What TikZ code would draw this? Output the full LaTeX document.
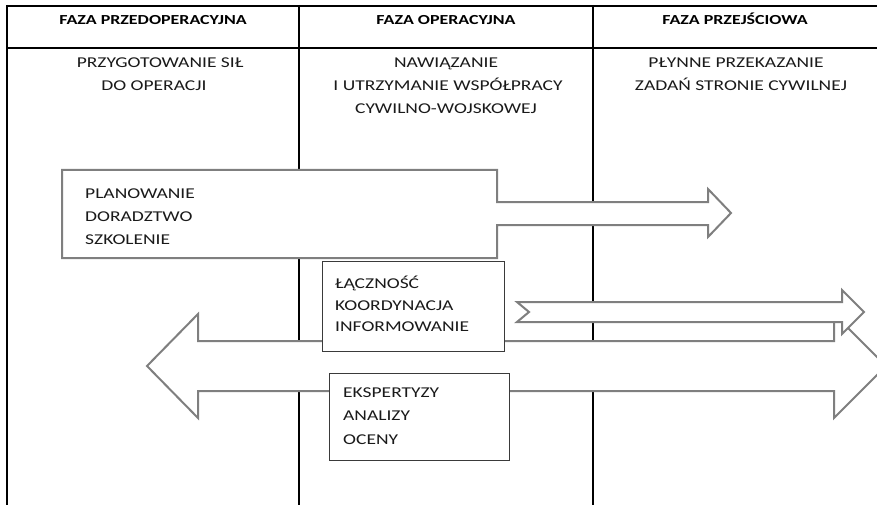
\documentclass[tikz,border=0pt]{standalone}
\usepackage{fontspec}
\setmainfont{Carlito}
\newfontfamily\bodyfam[FakeStretch=1.3]{Carlito}
\definecolor{arrowgray}{HTML}{7F7F7F}
\definecolor{boxgray}{HTML}{3A3A3A}
\definecolor{txt}{HTML}{1A1A1A}
\newcommand{\lblfont}{\bodyfam\fontsize{15}{18}\selectfont}
\newcommand{\hdrfont}{\bodyfam\fontsize{13.8}{18}\selectfont\bfseries}
\tikzset{
  tline/.style={line width=2.2pt, draw=black},
  garrow/.style={draw=arrowgray, line width=2pt, fill=white, line join=miter},
  tbox/.style={draw=boxgray, line width=1pt, fill=white, inner sep=0pt, anchor=north west},
  lbl/.style={inner sep=0pt, anchor=base west, font=\lblfont, text=txt},
  ctr/.style={inner sep=0pt, anchor=base, font=\lblfont, text=txt},
  hdr/.style={inner sep=0pt, anchor=base, font=\hdrfont, text=black},
}
\begin{document}
\begin{tikzpicture}[x=1pt,y=-1pt]
\useasboundingbox (0,0) rectangle (877,505);
% table lines
\coordinate (tl) at (7,6);
\coordinate (tr) at (877,6);
\coordinate (hl) at (7,48);
\coordinate (hr) at (877,48);
\coordinate (v0t) at (7,5); \coordinate (v0b) at (7,506);
\coordinate (v1t) at (299,5); \coordinate (v1b) at (299,506);
\coordinate (v2t) at (593,5); \coordinate (v2b) at (593,506);
\draw[tline] (tl) -- (tr);
\draw[tline] (hl) -- (hr);
\draw[tline] (v0t) -- (v0b);
\draw[tline] (v1t) -- (v1b);
\draw[tline] (v2t) -- (v2b);
% headers
\node[hdr] (h1) at (153,25) {FAZA PRZEDOPERACYJNA};
\node[hdr] (h2) at (446,25) {FAZA OPERACYJNA};
\node[hdr] (h3) at (735,25) {FAZA PRZEJŚCIOWA};
% second row
\node[ctr] (a1) at (160,68) {PRZYGOTOWANIE SIŁ};
\node[ctr] (a2) at (154,91) {DO OPERACJI};
\node[ctr] (b1) at (446,68) {NAWIĄZANIE};
\node[ctr] (b2) at (448,91) {I UTRZYMANIE WSPÓŁPRACY};
\node[ctr] (b3) at (446,114) {CYWILNO-WOJSKOWEJ};
\node[ctr] (c1) at (736,68) {PŁYNNE PRZEKAZANIE};
\node[ctr] (c2) at (741,91) {ZADAŃ STRONIE CYWILNEJ};
% arrow 1: callout right arrow
\draw[garrow] (62,170) -- (497,170) -- (497,202) -- (708,202) -- (708,189)
  -- (731,213) -- (708,237) -- (708,225) -- (497,225) -- (497,258) -- (62,258) -- cycle;
% double arrow
\draw[garrow] (147,366) -- (198,314) -- (198,341) -- (834,341) -- (834,314)
  -- (886,366) -- (834,418) -- (834,391) -- (198,391) -- (198,418) -- cycle;
% boxes
\node[tbox, minimum width=182pt, minimum height=90pt] (box2) at (322,261) {};
\node[tbox, minimum width=180pt, minimum height=87pt] (box3) at (329,373) {};
% notched arrow
\draw[garrow] (517,302) -- (842,302) -- (842,290) -- (864,312) -- (842,334)
  -- (842,322) -- (517,322) -- (529,312) -- cycle;
% box texts
\node[lbl] (p1) at (85,198) {PLANOWANIE};
\node[lbl] (p2) at (85,221) {DORADZTWO};
\node[lbl] (p3) at (85,244) {SZKOLENIE};
\node[lbl] (q1) at (335,288.5) {ŁĄCZNOŚĆ};
\node[lbl] (q2) at (335,310) {KOORDYNACJA};
\node[lbl] (q3) at (335,331.5) {INFORMOWANIE};
\node[lbl] (r1) at (343,397) {EKSPERTYZY};
\node[lbl] (r2) at (343,420.5) {ANALIZY};
\node[lbl] (r3) at (343,444) {OCENY};
\end{tikzpicture}
\end{document}
